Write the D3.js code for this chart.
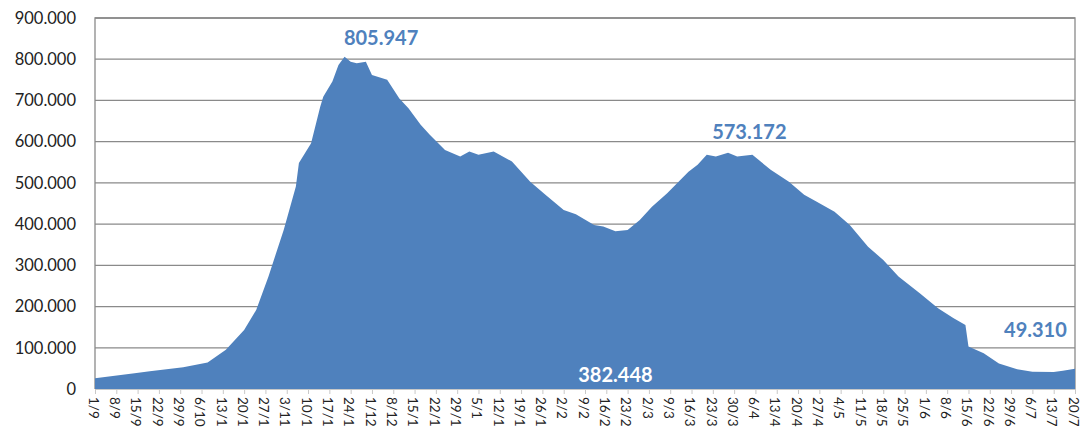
<!DOCTYPE html>
<html lang="it">
<head>
<meta charset="utf-8">
<title>Attualmente positivi</title>
<script src="https://d3js.org/d3.v7.min.js"></script>
<style>
  body { margin: 0; background: #fff; }
  text { font-family: Lato, "Open Sans", sans-serif; }
</style>
</head>
<body>
<script>
// dati (attualmente positivi)
var dates = ["2020-09-01","2020-09-14","2020-09-19","2020-09-30","2020-10-08","2020-10-14","2020-10-20",
  "2020-10-24","2020-10-28","2020-11-02","2020-11-06","2020-11-07","2020-11-11","2020-11-14","2020-11-15",
  "2020-11-18","2020-11-20","2020-11-22","2020-11-24","2020-11-26","2020-11-29","2020-12-01","2020-12-06",
  "2020-12-10","2020-12-13","2020-12-17","2020-12-20","2020-12-25","2020-12-30","2021-01-02","2021-01-05",
  "2021-01-10","2021-01-16","2021-01-22","2021-01-27","2021-02-02","2021-02-06","2021-02-12","2021-02-15",
  "2021-02-19","2021-02-23","2021-02-27","2021-03-03","2021-03-08","2021-03-15","2021-03-18","2021-03-21",
  "2021-03-24","2021-03-28","2021-03-31","2021-04-05","2021-04-11","2021-04-17","2021-04-22","2021-04-26",
  "2021-05-02","2021-05-07","2021-05-13","2021-05-18","2021-05-23","2021-05-30","2021-06-05","2021-06-10",
  "2021-06-14","2021-06-15","2021-06-20","2021-06-25","2021-07-01","2021-07-06","2021-07-13","2021-07-16",
  "2021-07-20"];
var values = [26000,38000,43000,53000,64000,95000,143000,
  192000,273000,386000,491000,548000,596000,685000,709000,
  746000,786000,805947,794000,790000,794000,762000,750000,
  705000,681000,641000,617000,580000,564000,576000,568000,
  576000,552000,503000,471000,434000,424000,398000,394000,
  382448,386000,410000,442000,475000,527000,544000,568000,
  564000,573172,564000,568000,532000,503000,471000,455000,
  430000,398000,345000,313000,273000,232000,196000,172000,
  155000,103000,87000,62000,48000,42000,41000,44000,
  49310];

var tickLabels = ["1/9","8/9","15/9","22/9","29/9","6/10","13/1","20/1","27/1","3/11","10/1","17/1",
  "24/1","1/12","8/12","15/1","22/1","29/1","5/1","12/1","19/1","26/1","2/2","9/2","16/2","23/2",
  "2/3","9/3","16/3","23/3","30/3","6/4","13/4","20/4","27/4","4/5","11/5","18/5","25/5","1/6",
  "8/6","15/6","22/6","29/6","6/7","13/7","20/7"];
var yTicks = [0,100000,200000,300000,400000,500000,600000,700000,800000,900000];

// etichette dei valori
var labelTexts = ["805.947","573.172","382.448","49.310"];
var labelDates = ["2020-12-04","2021-04-04","2021-02-19","2021-07-07"];
var labelValues = [835000,607000,17000,125000];
var labelColors = ["#4f81bd","#4f81bd","#ffffff","#4f81bd"];

var W = 1083, H = 437;
var m = {top: 18, right: 8, bottom: 48, left: 95};

var parse = d3.timeParse("%Y-%m-%d");
var data = dates.map(function(d, i){ return {date: parse(d), value: values[i]}; });

var svg = d3.select("body").append("svg")
  .attr("width", W).attr("height", H);

var x = d3.scaleTime()
  .domain([parse("2020-09-01"), parse("2021-07-20")])
  .range([m.left, W - m.right]);
var y = d3.scaleLinear()
  .domain([0, 900000])
  .range([H - m.bottom, m.top]);

// griglia orizzontale
svg.append("g").selectAll("line")
  .data(yTicks.slice(1))
  .enter().append("line")
  .attr("x1", m.left).attr("x2", W - m.right)
  .attr("y1", function(d){ return y(d); })
  .attr("y2", function(d){ return y(d); })
  .attr("stroke", "#8a8a8a").attr("stroke-width", 1.3);

// bordo area del grafico
svg.append("path")
  .attr("d", "M" + m.left + "," + y(0) + "V" + m.top + "H" + (W - m.right) + "V" + y(0))
  .attr("fill", "none").attr("stroke", "#8a8a8a").attr("stroke-width", 1.3);

// area
var area = d3.area()
  .x(function(d){ return x(d.date); })
  .y0(y(0))
  .y1(function(d){ return y(d.value); });

svg.append("path")
  .datum(data)
  .attr("d", area)
  .attr("fill", "#4f81bd");

// asse y
var fmt = d3.formatLocale({decimal: ",", thousands: ".", grouping: [3], currency: ["", "€"]}).format(",.0f");
var yAxis = svg.append("g")
  .attr("transform", "translate(" + m.left + ",0)")
  .call(d3.axisLeft(y).tickValues(yTicks).tickFormat(fmt).tickSize(0).tickPadding(19));
yAxis.select(".domain").remove();
yAxis.selectAll("text")
  .attr("font-size", 16.5).attr("fill", "#222")
  .style("font-family", "Lato, sans-serif");

// asse x settimanale
var tickDates = tickLabels.map(function(d, i){ return d3.timeDay.offset(parse("2020-09-01"), 7 * i); });
var xAxis = svg.append("g")
  .attr("transform", "translate(0," + y(0) + ")")
  .call(d3.axisBottom(x).tickValues(tickDates)
    .tickFormat(function(d, i){ return tickLabels[i]; })
    .tickSize(5).tickSizeOuter(0));
xAxis.select(".domain").attr("stroke", "#c8c8c8");
xAxis.selectAll(".tick line").attr("stroke", "#c8c8c8");
xAxis.selectAll("text")
  .attr("font-size", 13.5).attr("fill", "#222")
  .attr("text-anchor", "start")
  .attr("transform", "rotate(90)")
  .attr("x", 8).attr("y", 0).attr("dy", "0.5em")
  .style("font-family", "Lato, sans-serif");

// etichette dati
svg.append("g").selectAll("text")
  .data(labelTexts)
  .enter().append("text")
  .attr("x", function(d, i){ return x(parse(labelDates[i])); })
  .attr("y", function(d, i){ return y(labelValues[i]); })
  .attr("text-anchor", "middle")
  .attr("font-size", 20).attr("font-weight", "bold")
  .attr("fill", function(d, i){ return labelColors[i]; })
  .text(function(d){ return d; });
</script>
</body>
</html>
